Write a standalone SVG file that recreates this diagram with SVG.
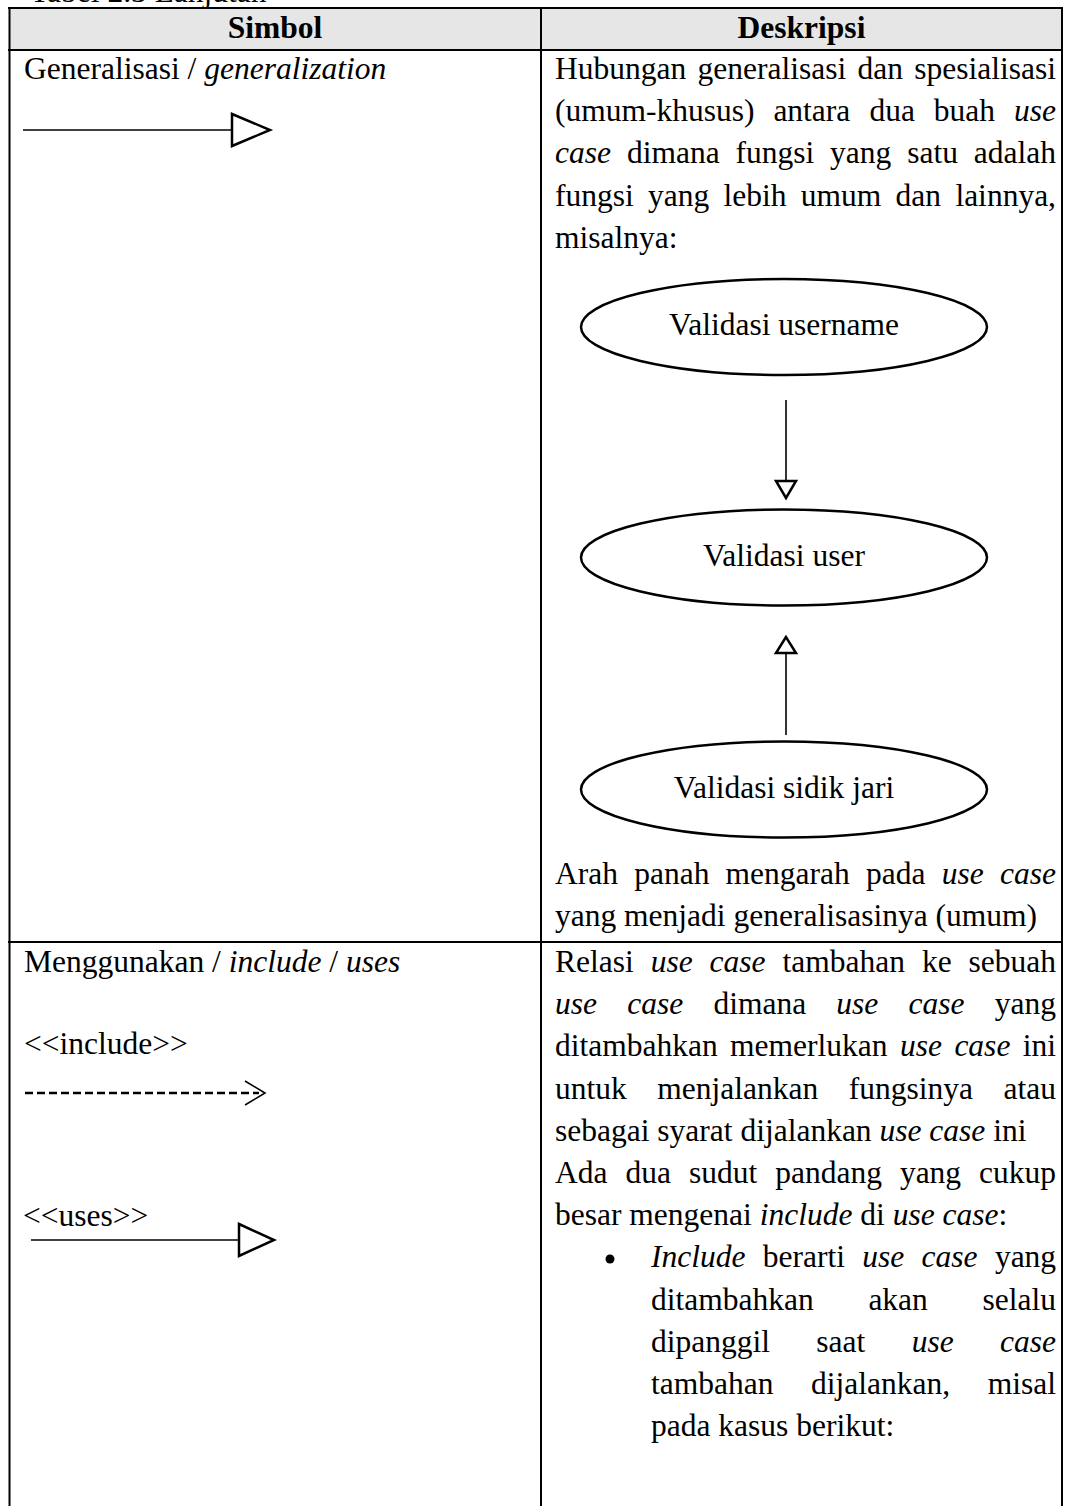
<svg xmlns="http://www.w3.org/2000/svg" width="1065" height="1506" viewBox="0 0 1065 1506">
  <style>
    .t { font-family: "Liberation Serif", "Times New Roman", serif; font-size: 31.5px; fill: #000; }
    .b { font-weight: bold; }
    .i { font-style: italic; }
    .grid { stroke: #000; stroke-width: 2; fill: none; }
    .uc { fill: #fff; stroke: #000; stroke-width: 2.5; }
    .ln { stroke: #000; stroke-width: 1.6; fill: none; }
    .head { fill: #fff; stroke: #000; stroke-width: 2.5; stroke-linejoin: miter; }
    .dash { stroke: #000; stroke-width: 2.4; stroke-dasharray: 8 4; fill: none; }
  </style>

  <rect width="1065" height="1506" fill="#fff"/>

  <!-- running caption, mostly above the page edge -->
  <text class="t" x="30" y="2">Tabel 2.3 Lanjutan</text>

  <!-- table frame -->
  <g id="table">
    <rect x="9" y="8" width="1053" height="42" fill="#e6e6e6"/>
    <line class="grid" x1="8" y1="8" x2="1063" y2="8"/>
    <line class="grid" x1="8" y1="50" x2="1063" y2="50" stroke-width="2.5"/>
    <line class="grid" x1="8" y1="942" x2="1063" y2="942"/>
    <line class="grid" x1="9.5" y1="7" x2="9.5" y2="1506"/>
    <line class="grid" x1="541" y1="7" x2="541" y2="1506"/>
    <line class="grid" x1="1062" y1="7" x2="1062" y2="1506"/>
    <text class="t b" x="275" y="38" text-anchor="middle">Simbol</text>
    <text class="t b" x="801.5" y="38" text-anchor="middle">Deskripsi</text>
  </g>

  <!-- row 1: generalization -->
  <g id="sym-generalization">
    <text class="t" x="24" y="79">Generalisasi / <tspan class="i">generalization</tspan></text>
    <line class="ln" x1="23" y1="130" x2="232" y2="130"/>
    <polygon class="head" points="232,114 270,130 232,146"/>
  </g>

  <g id="desc-generalization">
    <text class="t" y="79"><tspan x="555">Hubungan</tspan><tspan x="697.5">generalisasi</tspan><tspan x="857.5">dan</tspan><tspan x="914.2">spesialisasi</tspan></text>
    <text class="t" y="121.2"><tspan x="555">(umum-khusus)</tspan><tspan x="773.4">antara</tspan><tspan x="869.4">dua</tspan><tspan x="933.8">buah</tspan><tspan class="i" x="1014">use</tspan></text>
    <text class="t" y="163.4"><tspan class="i" x="555">case</tspan><tspan x="626.9">dimana</tspan><tspan x="735.5">fungsi</tspan><tspan x="830.1">yang</tspan><tspan x="907.2">satu</tspan><tspan x="973.8">adalah</tspan></text>
    <text class="t" y="205.6"><tspan x="555">fungsi</tspan><tspan x="648">yang</tspan><tspan x="723.5">lebih</tspan><tspan x="800.8">umum</tspan><tspan x="895.6">dan</tspan><tspan x="955.4">lainnya,</tspan></text>
    <text class="t" x="555" y="247.8">misalnya:</text>
    <text class="t" y="884"><tspan x="555">Arah</tspan><tspan x="634.2">panah</tspan><tspan x="725.6">mengarah</tspan><tspan x="866">pada</tspan><tspan class="i" x="941.7">use</tspan><tspan class="i" x="1000">case</tspan></text>
    <text class="t" x="555" y="926">yang menjadi generalisasinya (umum)</text>
  </g>

  <!-- use case nodes -->
  <g id="uc-username">
    <ellipse class="uc" cx="784" cy="327" rx="203" ry="48"/>
    <text class="t" x="784" y="335" text-anchor="middle">Validasi username</text>
  </g>
  <g id="uc-user">
    <ellipse class="uc" cx="784" cy="557.5" rx="203" ry="48"/>
    <text class="t" x="784" y="566" text-anchor="middle">Validasi user</text>
  </g>
  <g id="uc-sidik-jari">
    <ellipse class="uc" cx="784" cy="789.5" rx="203" ry="48"/>
    <text class="t" x="784" y="798" text-anchor="middle">Validasi sidik jari</text>
  </g>

  <!-- generalization connectors between use cases -->
  <g id="connectors">
    <line class="ln" x1="786" y1="400" x2="786" y2="481"/>
    <polygon class="head" points="776,481 796,481 786,498"/>
    <line class="ln" x1="786" y1="653" x2="786" y2="735"/>
    <polygon class="head" points="786,637 776,653 796,653"/>
  </g>

  <!-- row 2: include / uses -->
  <g id="sym-include">
    <text class="t" x="24" y="972">Menggunakan / <tspan class="i">include</tspan> / <tspan class="i">uses</tspan></text>
    <text class="t" x="24" y="1054">&lt;&lt;include&gt;&gt;</text>
    <line class="dash" x1="25" y1="1093" x2="259" y2="1093"/>
    <polyline class="ln" stroke-width="2" points="245,1081 265,1093 245,1105"/>
    <text class="t" x="23" y="1226">&lt;&lt;uses&gt;&gt;</text>
    <line class="ln" x1="31" y1="1240" x2="239" y2="1240"/>
    <polygon class="head" points="239,1224 274,1240 239,1256"/>
  </g>

  <g id="desc-include">
    <text class="t" y="972"><tspan x="555">Relasi</tspan><tspan class="i" x="650.7">use</tspan><tspan class="i" x="709.6">case</tspan><tspan x="782.5">tambahan</tspan><tspan x="921.9">ke</tspan><tspan x="968.5">sebuah</tspan></text>
    <text class="t" y="1014.2"><tspan class="i" x="555">use</tspan><tspan class="i" x="627.2">case</tspan><tspan x="713.4">dimana</tspan><tspan class="i" x="836.3">use</tspan><tspan class="i" x="908.5">case</tspan><tspan x="994.8">yang</tspan></text>
    <text class="t" y="1056.4"><tspan x="555">ditambahkan</tspan><tspan x="730.1">memerlukan</tspan><tspan class="i" x="900">use</tspan><tspan class="i" x="954.4">case</tspan><tspan x="1022.7">ini</tspan></text>
    <text class="t" y="1098.6"><tspan x="555">untuk</tspan><tspan x="657.3">menjalankan</tspan><tspan x="848.8">fungsinya</tspan><tspan x="1003.5">atau</tspan></text>
    <text class="t" x="555" y="1140.8">sebagai syarat dijalankan <tspan class="i">use case</tspan> ini</text>
    <text class="t" y="1183"><tspan x="555">Ada</tspan><tspan x="625.5">dua</tspan><tspan x="689">sudut</tspan><tspan x="775.2">pandang</tspan><tspan x="899.9">yang</tspan><tspan x="979.1">cukup</tspan></text>
    <text class="t" x="555" y="1225.2">besar mengenai <tspan class="i">include</tspan> di <tspan class="i">use case</tspan>:</text>
    <circle cx="610" cy="1259" r="4.5" fill="#000"/>
    <text class="t" y="1267.4"><tspan class="i" x="651">Include</tspan><tspan x="762.8">berarti</tspan><tspan class="i" x="862.3">use</tspan><tspan class="i" x="921.6">case</tspan><tspan x="994.9">yang</tspan></text>
    <text class="t" y="1309.6"><tspan x="651">ditambahkan</tspan><tspan x="868.4">akan</tspan><tspan x="982.5">selalu</tspan></text>
    <text class="t" y="1351.8"><tspan x="651">dipanggil</tspan><tspan x="816.3">saat</tspan><tspan class="i" x="911.7">use</tspan><tspan class="i" x="1000">case</tspan></text>
    <text class="t" y="1394"><tspan x="651">tambahan</tspan><tspan x="811.1">dijalankan,</tspan><tspan x="987.7">misal</tspan></text>
    <text class="t" x="651" y="1436.2">pada kasus berikut:</text>
  </g>
</svg>
